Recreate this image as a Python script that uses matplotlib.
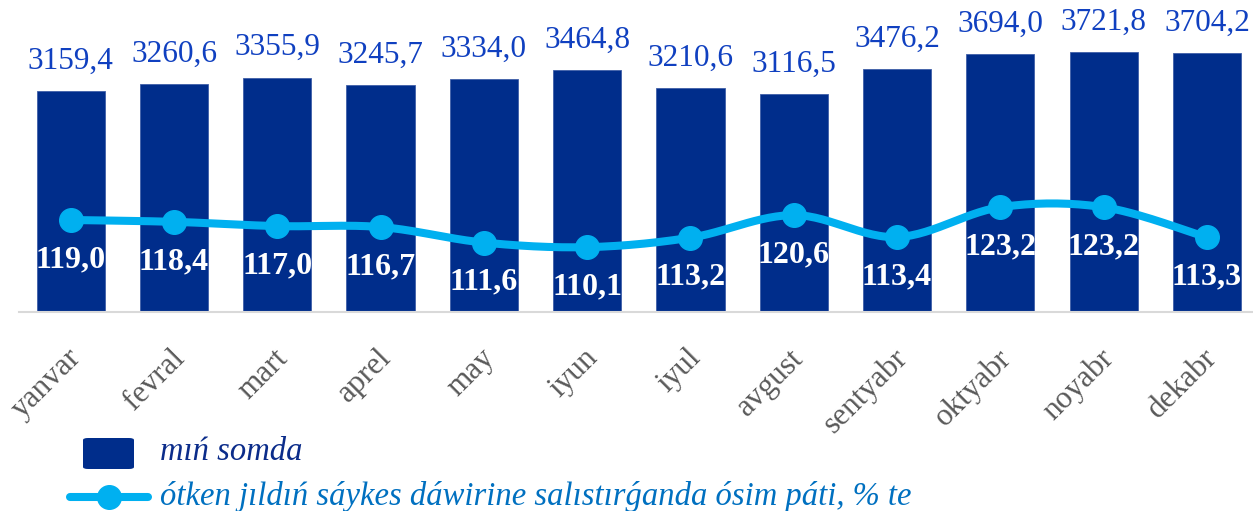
import numpy as np
import matplotlib
matplotlib.use('Agg')
import matplotlib.pyplot as plt
from matplotlib.patches import FancyBboxPatch
from matplotlib.lines import Line2D
import matplotlib.transforms as mtransforms

# data
months = ['yanvar', 'fevral', 'mart', 'aprel', 'may', 'iyun', 'iyul', 'avgust',
          'sentyabr', 'oktyabr', 'noyabr', 'dekabr']
amount = [3159.4, 3260.6, 3355.9, 3245.7, 3334.0, 3464.8, 3210.6, 3116.5,
          3476.2, 3694.0, 3721.8, 3704.2]
growth = [119.0, 118.4, 117.0, 116.7, 111.6, 110.1, 113.2, 120.6,
          113.4, 123.2, 123.2, 113.3]

bar_label = 'mıń somda'
line_label = 'ótken jıldıń sáykes dáwirine salıstırǵanda ósim páti, % te'

bar_color = '#002D8B'
line_color = '#00B0F0'
serif = 'Liberation Serif'


def fmt(v):
    return f'{v:.1f}'.replace('.', ',')


def smooth(xs, ys, n=30):
    # bezier smoothing through the points (like the office "smoothed line")
    x = np.asarray(xs, float)
    y = np.asarray(ys, float)
    px = np.concatenate([[x[0]], x, [x[-1]]])
    py = np.concatenate([[y[0]], y, [y[-1]]])
    out_x, out_y = [], []
    t = np.linspace(0, 1, n)
    for i in range(len(x) - 1):
        p0 = np.array([px[i + 1], py[i + 1]])
        p3 = np.array([px[i + 2], py[i + 2]])
        c1 = p0 + (np.array([px[i + 2], py[i + 2]]) - np.array([px[i], py[i]])) / 6
        c2 = p3 - (np.array([px[i + 3], py[i + 3]]) - np.array([px[i + 1], py[i + 1]])) / 6
        b = ((1 - t) ** 3)[:, None] * p0 + (3 * (1 - t) ** 2 * t)[:, None] * c1 \
            + (3 * (1 - t) * t ** 2)[:, None] * c2 + (t ** 3)[:, None] * p3
        out_x.extend(b[:, 0])
        out_y.extend(b[:, 1])
    return out_x, out_y


W, H = 1253, 511
fig = plt.figure(figsize=(W / 100, H / 100), dpi=100)
ax = fig.add_axes([19 / W, (H - 312) / H, (W - 19) / W, 292 / H])
x = np.arange(len(months))

ax.bar(x, amount, width=0.66, color=bar_color, edgecolor='#3F5FA8', linewidth=0.6, zorder=2)
ax.set_ylim(0, 292 * 14.32)
ax.set_xlim(-0.5, -0.5 + 1234 / 103.3)

for xi, v in zip(x, amount):
    ax.annotate(fmt(v), (xi, v), xytext=(0, 21.5), textcoords='offset points',
                ha='center', va='center', fontsize=22.5, family=serif, color='#1040C0')

ax.set_yticks([])
for s in ['top', 'right', 'left']:
    ax.spines[s].set_visible(False)
ax.spines['bottom'].set_color('#D9D9D9')
ax.spines['bottom'].set_linewidth(1.5)
ax.tick_params(axis='x', length=0, pad=30)
ax.set_xticks(x)
ax.set_xticklabels(months, rotation=45, ha='right', va='center', rotation_mode='anchor',
                   fontsize=22.5, family=serif, color='#595959')
offset = mtransforms.ScaledTranslation(6 / 100, 0, fig.dpi_scale_trans)
for lab in ax.get_xticklabels():
    lab.set_transform(lab.get_transform() + offset)

ax2 = ax.twinx()
ax2.set_ylim(119 - 92 / 3.05, 119 + 200 / 3.05)
ax2.axis('off')
sx, sy = smooth(x, growth)
ax2.plot(sx, sy, color=line_color, linewidth=5.8, solid_capstyle='round', zorder=3)
ax2.plot(x, growth, linestyle='none', marker='o', markersize=17, color=line_color, zorder=4)
for xi, v in zip(x, growth):
    ax2.annotate(fmt(v), (xi, v), xytext=(0, -28.5), textcoords='offset points',
                 ha='center', va='center', fontsize=23, family=serif,
                 fontweight='bold', color='white')

# legend
fig.patches.append(FancyBboxPatch((83 / W, (H - 469) / H), 51 / W, 31 / H,
                                  boxstyle='round,pad=0,rounding_size=0.004',
                                  transform=fig.transFigure, facecolor=bar_color,
                                  edgecolor='none'))
fig.text(160 / W, (H - 452) / H, bar_label, ha='left', va='center', fontsize=23.5,
         family=serif, style='italic', color='#0B2C8A')
fig.lines.append(Line2D([70 / W, 148 / W], [(H - 497) / H] * 2, transform=fig.transFigure,
                        color=line_color, linewidth=5.8, solid_capstyle='round'))
fig.lines.append(Line2D([109 / W], [(H - 497) / H], transform=fig.transFigure,
                        marker='o', markersize=17, color=line_color, linestyle='none'))
fig.text(160 / W, (H - 497) / H, line_label, ha='left', va='center', fontsize=23.5,
         family=serif, style='italic', color='#0070C0')

fig.savefig('out.png', dpi=100)
